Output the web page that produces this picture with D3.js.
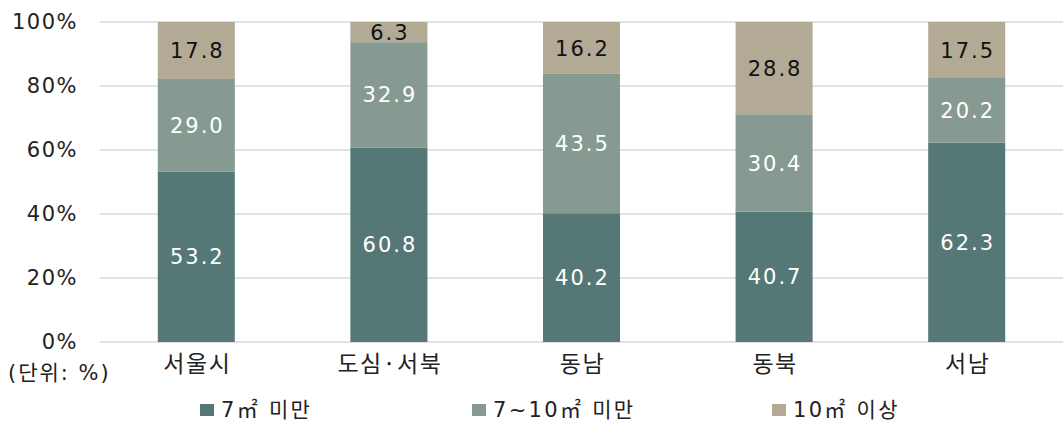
<!DOCTYPE html>
<html><head><meta charset="utf-8">
<script src="https://cdn.jsdelivr.net/npm/d3@7"></script>
<style>body{margin:0;background:#fff}svg{display:block}text{font-family:"Noto Sans CJK KR","Noto Sans",sans-serif}</style>
</head><body>
<svg id="c" width="1063" height="421"></svg>
<script>
const categories = ["서울시","도심·서북","동남","동북","서남"];
const seriesNames = ["7㎡ 미만","7~10㎡ 미만","10㎡ 이상"];
const small = [53.2,60.8,40.2,40.7,62.3];
const mid = [29.0,32.9,43.5,30.4,20.2];
const large = [17.8,6.3,16.2,28.8,17.5];
const yTicks = [0,20,40,60,80,100];
const colors = ["#557876","#879a92","#b2aa95"];
const labelColors = ["#ffffff","#ffffff","#111111"];

const svg = d3.select("#c");
const m = {l:100, r:0, t:22, b:79};
const W = 1063, H = 421;
const x = d3.scaleBand().domain(categories).range([m.l, W-m.r]).paddingInner(0.6).paddingOuter(0.3);
const y = d3.scaleLinear().domain([0,100]).range([H-m.b, m.t]);
const numFont = "'DejaVu Sans','Noto Sans CJK KR',sans-serif";

// grid
svg.append("g").selectAll("line").data(yTicks).join("line")
  .attr("x1", m.l).attr("x2", W-m.r)
  .attr("y1", d=>y(d)).attr("y2", d=>y(d))
  .attr("stroke", "#d9d9d9").attr("stroke-width", 1.3);

// y axis labels
const yAxis = d3.axisLeft(y).tickValues(yTicks).tickFormat(d=>d+"%").tickSize(0).tickPadding(22);
const ya = svg.append("g").attr("transform",`translate(${m.l},0)`).call(yAxis);
ya.select(".domain").remove();
ya.selectAll("text").attr("font-size",21).attr("fill","#222")
  .style("font-family",numFont).style("letter-spacing","1.5px");

const data = categories.map((c,i)=>({cat:c, v:[small[i],mid[i],large[i]]}));

data.forEach(d=>{
  const tot = d3.sum(d.v);
  let acc = 0;
  d.v.forEach((v,si)=>{
    const y0 = acc/tot*100, y1 = (acc+v)/tot*100;
    acc += v;
    svg.append("rect")
      .attr("x", x(d.cat)).attr("width", x.bandwidth())
      .attr("y", y(y1)).attr("height", y(y0)-y(y1))
      .attr("fill", colors[si]);
    svg.append("text")
      .attr("x", x(d.cat)+x.bandwidth()/2+1)
      .attr("y", (y(y0)+y(y1))/2)
      .attr("dy","0.36em")
      .attr("text-anchor","middle")
      .attr("font-size",21)
      .style("font-family",numFont).style("letter-spacing","2px")
      .attr("fill", labelColors[si])
      .text(v.toFixed(1));
  });
});

// x axis
const xAxis = d3.axisBottom(x).tickSize(0).tickPadding(14);
const xa = svg.append("g").attr("transform",`translate(1,${H-m.b})`).call(xAxis);
xa.select(".domain").remove();
xa.selectAll("text").attr("font-size",23).attr("fill","#222")
  .style("font-family","'Noto Sans CJK KR',sans-serif").style("letter-spacing","1.5px");

svg.append("text").attr("x",8).attr("y",380).attr("font-size",21).attr("fill","#222")
  .style("font-family",numFont).style("letter-spacing","2px").text("(단위: %)");

// legend
const legX = [200, 472, 772];
seriesNames.forEach((s,i)=>{
  svg.append("rect").attr("x",legX[i]).attr("y",404).attr("width",14).attr("height",12).attr("fill",colors[i]);
  svg.append("text").attr("x",legX[i]+21).attr("y",417).attr("font-size",21).attr("fill","#222")
    .style("font-family",numFont).style("letter-spacing","2.3px").text(s);
});
</script>
</body></html>
